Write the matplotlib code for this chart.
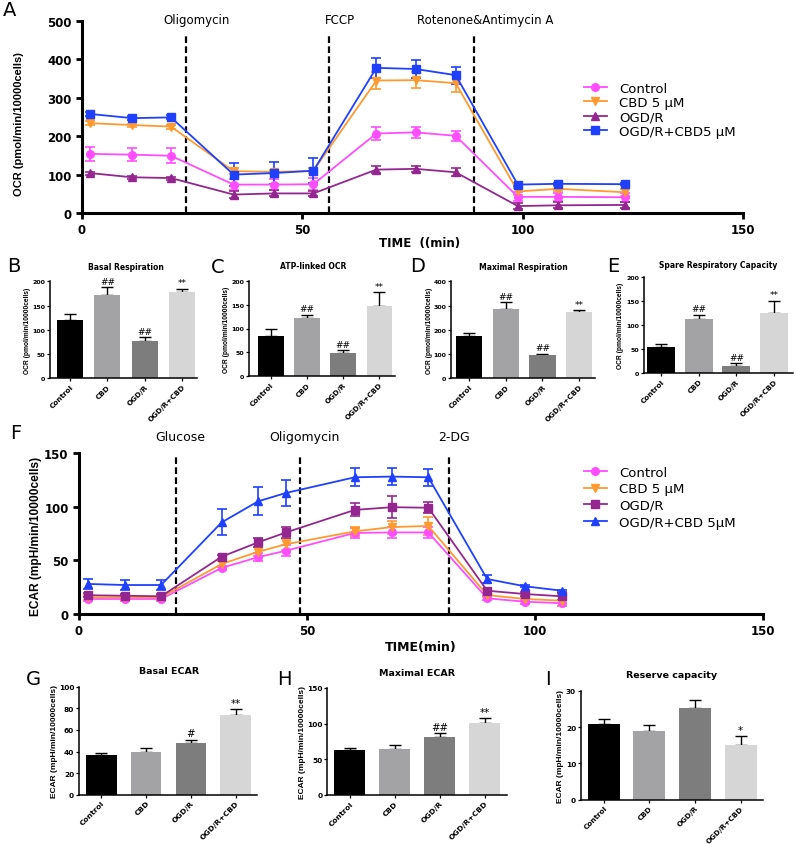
import numpy as np
import matplotlib.pyplot as plt
from matplotlib.lines import Line2D

plt.rcParams['font.family'] = 'DejaVu Sans'

# ---------------- data ----------------
# panel A : OCR kinetics
ocr_time = [1.8, 11.4, 20.2, 34.4, 43.5, 52.5, 66.8, 75.7, 84.8, 98.9, 108, 123.2]
ocr_control = [154, 152, 149, 74, 74, 75, 207, 210, 201, 42, 42, 41]
ocr_control_sd = [18, 17, 19, 14, 15, 16, 17, 14, 13, 12, 11, 12]
ocr_cbd = [234, 229, 225, 109, 107, 110, 345, 346, 338, 56, 63, 54]
ocr_cbd_sd = [5, 4, 5, 8, 6, 6, 22, 20, 22, 8, 7, 9]
ocr_ogdr = [104, 93, 91, 48, 51, 51, 113, 115, 106, 18, 20, 21]
ocr_ogdr_sd = [4, 4, 4, 9, 8, 6, 9, 8, 10, 8, 8, 7]
ocr_ogdr_cbd = [258, 247, 249, 100, 104, 110, 378, 375, 359, 74, 76, 75]
ocr_ogdr_cbd_sd = [5, 5, 5, 30, 29, 32, 26, 24, 22, 4, 3, 3]
ocr_inject = [23.6, 56.1, 88.9]
ocr_inject_labels = ['Oligomycin', 'FCCP', 'Rotenone&Antimycin A']
ocr_legend = ['Control', 'CBD 5 μM', 'OGD/R', 'OGD/R+CBD5 μM']

# panel F : ECAR kinetics
ecar_time = [2, 10, 18, 31.3, 39.3, 45.4, 60.5, 68.6, 76.6, 89.5, 97.8, 105.9]
ecar_control = [14, 14, 14, 43, 53, 59, 75.5, 76, 76, 14.6, 11.5, 10]
ecar_control_sd = [2, 2, 2, 2, 4, 5, 5, 5, 5, 2, 2, 3]
ecar_cbd = [15.5, 15.5, 15.5, 46.6, 58, 65, 77, 81, 82, 17.7, 14, 12.4]
ecar_cbd_sd = [2, 2, 2, 3, 4, 5, 4, 6, 8, 2, 2, 5]
ecar_ogdr = [17.5, 17, 16.5, 53.4, 66.8, 76, 97, 99.5, 99, 21.7, 18.6, 16.5]
ecar_ogdr_sd = [2, 2, 2, 2, 4, 5, 6, 10, 5, 2, 2, 3]
ecar_ogdr_cbd = [28, 27, 27, 85.4, 105, 112.8, 127.4, 128, 127.4, 32.6, 25.8, 21.7]
ecar_ogdr_cbd_sd = [5, 4.5, 4.5, 12, 13, 12, 8.5, 8, 8, 4, 1, 1]
ecar_inject = [21.2, 48.5, 81.2]
ecar_inject_labels = ['Glucose', 'Oligomycin', '2-DG']
ecar_legend = ['Control', 'CBD 5 μM', 'OGD/R', 'OGD/R+CBD 5μM']

# bar panels
groups = ['Control', 'CBD', 'OGD/R', 'OGD/R+CBD']
basal_resp = [121, 172, 77, 177]
basal_resp_sd = [12, 16, 8, 8]
atp_ocr = [85, 121, 48, 148]
atp_ocr_sd = [15, 8, 6, 28]
max_resp = [176, 286, 96, 275]
max_resp_sd = [12, 27, 6, 6]
spare_cap = [55, 112, 14, 125]
spare_cap_sd = [5, 10, 6, 26]
ocr_marks = ['', '##', '##', '**']
basal_ecar = [36.8, 39.8, 47.9, 73.8]
basal_ecar_sd = [2, 3, 3, 5.3]
basal_ecar_marks = ['', '', '#', '**']
max_ecar = [63.5, 64.5, 82, 100.5]
max_ecar_sd = [3, 5.6, 4.7, 7]
max_ecar_marks = ['', '', '##', '**']
reserve_cap = [20.8, 18.8, 25.2, 15.1]
reserve_cap_sd = [1.4, 1.8, 2.2, 2.3]
reserve_cap_marks = ['', '', '', '*']

line_colors = ['#ff4dff', '#ff9a2e', '#93278f', '#1f40ff']
bar_colors = ['#000000', '#a3a3a6', '#7d7d7d', '#d6d6d6']

# ---------------- figure ----------------
W, H = 796, 845
fig = plt.figure(figsize=(W / 100, H / 100), dpi=100)


def add_ax(left, right, top, bottom):
    # pixel box -> figure fraction
    return fig.add_axes([left / W, 1 - bottom / H, (right - left) / W, (bottom - top) / H])


def ftext(x, y, s, **kw):
    fig.text(x / W, 1 - y / H, s, ha='center', va='center', **kw)


def kinetic(ax, t, ys, sds, markers, inj, inj_top):
    for y, e, c, m in zip(ys, sds, line_colors, markers):
        ax.errorbar(t, y, yerr=e, color=c, marker=m, ms=5.5, lw=1.3,
                    elinewidth=1.2, capsize=3.5, capthick=1.2, clip_on=False)
    for x in inj:
        ax.axvline(x, ymax=inj_top, color='black', ls=(0, (3, 1.5)), lw=1.6)
    for sp in ['top', 'right']:
        ax.spines[sp].set_visible(False)
    for sp in ['left', 'bottom']:
        ax.spines[sp].set_linewidth(2.2)
    ax.tick_params(width=2, length=4, labelsize=8.5)


def bar_panel(ax, vals, sds, marks, xlim, ylim, yticks, ylabel, lab_fs, tick_fs, xt_fs, bw):
    x = np.arange(len(groups))
    ax.bar(x, vals, width=bw, color=bar_colors, zorder=2)
    ax.errorbar(x, vals, yerr=[np.zeros(len(vals)), sds], fmt='none', ecolor='black',
                elinewidth=1, capsize=4, capthick=1, zorder=1)
    for xi, v, s, m in zip(x, vals, sds, marks):
        ax.annotate(m, (xi, v + s), xytext=(0, 1), textcoords='offset points',
                    ha='center', va='bottom', fontsize=tick_fs + 2)
    ax.set_xlim(*xlim)
    ax.set_ylim(*ylim)
    ax.set_yticks(yticks)
    ax.set_xticks(x)
    ax.set_xticklabels(groups, rotation=45, ha='right', rotation_mode='anchor',
                       fontsize=xt_fs, fontweight='bold')
    for lbl in ax.get_yticklabels():
        lbl.set_fontweight('bold')
        lbl.set_fontsize(tick_fs)
    ax.tick_params(width=0.9, length=2.5, pad=1.0)
    for sp in ['top', 'right']:
        ax.spines[sp].set_visible(False)
    for sp in ['left', 'bottom']:
        ax.spines[sp].set_linewidth(1.1)
    ax.set_ylabel(ylabel, family='Liberation Sans', fontweight='bold', fontsize=lab_fs,
                  va='center')


# ---- A
axA = add_ax(82, 743, 22, 214)
kinetic(axA, ocr_time, [ocr_control, ocr_cbd, ocr_ogdr, ocr_ogdr_cbd],
        [ocr_control_sd, ocr_cbd_sd, ocr_ogdr_sd, ocr_ogdr_cbd_sd],
        ['o', 'v', '^', 's'], ocr_inject, 0.94)
axA.set_xlim(0, 150)
axA.set_ylim(0, 500)
axA.set_xticks([0, 50, 100, 150])
axA.set_yticks(range(0, 501, 100))
for lbl in axA.get_xticklabels() + axA.get_yticklabels():
    lbl.set_fontweight('bold')
for x, lab in zip(ocr_inject, ocr_inject_labels):
    axA.text(x + 2.5, 1.01, lab, transform=axA.get_xaxis_transform(),
             ha='center', va='center', fontsize=8.5)
axA.set_ylabel('OCR (pmol/min/10000cells)', family='Liberation Sans',
               fontweight='bold', fontsize=8, va='center')
axA.yaxis.set_label_coords((19 - 82) / 661, 0.47)
axA.set_xlabel('TIME  ((min)', fontweight='bold', fontsize=8.5, va='center')
axA.xaxis.set_label_coords(0.51, (214 - 243) / 192)
hA = [Line2D([], [], color=c, marker=m, ms=5.5, lw=1.3)
      for c, m in zip(line_colors, ['o', 'v', '^', 's'])]
axA.legend(hA, ocr_legend, loc='upper left', bbox_to_anchor=(577 / W, 1 - 76 / H),
           bbox_transform=fig.transFigure, frameon=False, fontsize=9.5, borderpad=0,
           handlelength=1.8, handletextpad=0.9, labelspacing=0.1)

# ---- F
axF = add_ax(79, 763, 454, 615)
kinetic(axF, ecar_time, [ecar_control, ecar_cbd, ecar_ogdr, ecar_ogdr_cbd],
        [ecar_control_sd, ecar_cbd_sd, ecar_ogdr_sd, ecar_ogdr_cbd_sd],
        ['o', 'v', 's', '^'], ecar_inject, 0.98)
axF.set_xlim(0, 150)
axF.set_ylim(0, 150)
axF.set_xticks([0, 50, 100, 150])
axF.set_yticks([0, 50, 100, 150])
for lbl in axF.get_xticklabels() + axF.get_yticklabels():
    lbl.set_fontweight('bold')
for x, lab in zip(ecar_inject, ecar_inject_labels):
    axF.text(x + 1, 1.105, lab, transform=axF.get_xaxis_transform(),
             ha='center', va='center', fontsize=9)
axF.set_ylabel('ECAR (mpH/min/10000cells)', family='Liberation Sans',
               fontweight='bold', fontsize=8.6, va='center')
axF.yaxis.set_label_coords((36 - 79) / 684, 0.49)
axF.set_xlabel('TIME(min)', fontweight='bold', fontsize=9, va='center')
axF.xaxis.set_label_coords(0.5, (615 - 647) / 161)
hF = [Line2D([], [], color=c, marker=m, ms=5.5, lw=1.3)
      for c, m in zip(line_colors, ['o', 'v', 's', '^'])]
axF.legend(hF, ecar_legend, loc='upper left', bbox_to_anchor=(577 / W, 1 - 460 / H),
           bbox_transform=fig.transFigure, frameon=False, fontsize=9.5, borderpad=0,
           handlelength=1.8, handletextpad=0.9, labelspacing=0.28)

# ---- B-E
ocr_ylab = 'OCR (pmol/min/10000cells)'
axB = add_ax(50, 197, 282.3, 379.3)
bar_panel(axB, basal_resp, basal_resp_sd, ocr_marks, (-0.53, 3.39), (0, 200),
          range(0, 201, 50), ocr_ylab, 4.8, 4.5, 5.2, 0.69)
axB.yaxis.set_label_coords((28 - 50) / 147, 0.5)

axC = add_ax(249, 395, 281.7, 377.3)
bar_panel(axC, atp_ocr, atp_ocr_sd, ocr_marks, (-0.6, 3.43), (0, 200),
          range(0, 201, 50), ocr_ylab, 4.8, 4.5, 5.2, 0.71)
axC.yaxis.set_label_coords((226 - 249) / 146, 0.5)

axD = add_ax(451, 595, 282.3, 379.3)
bar_panel(axD, max_resp, max_resp_sd, ocr_marks, (-0.49, 3.43), (0, 400),
          range(0, 401, 100), ocr_ylab, 4.8, 4.5, 5.2, 0.71)
axD.yaxis.set_label_coords((429 - 451) / 144, 0.5)

axE = add_ax(644.3, 792.7, 278.3, 374)
bar_panel(axE, spare_cap, spare_cap_sd, ocr_marks, (-0.44, 3.49), (0, 200),
          range(0, 201, 50), ocr_ylab, 4.8, 4.5, 5.2, 0.74)
axE.yaxis.set_label_coords((621 - 644.3) / 148.4, 0.5)

# ---- G-I
ecar_ylab = 'ECAR (mpH/min/10000cells)'
axG = add_ax(79, 257, 687.7, 795.7)
bar_panel(axG, basal_ecar, basal_ecar_sd, basal_ecar_marks, (-0.5, 3.48), (0, 100),
          range(0, 101, 20), ecar_ylab, 6, 5.3, 5.4, 0.68)
axG.yaxis.set_label_coords((54 - 79) / 178, 0.5)

axH = add_ax(327.3, 506.7, 689, 796)
bar_panel(axH, max_ecar, max_ecar_sd, max_ecar_marks, (-0.5, 3.49), (0, 150),
          range(0, 151, 50), ecar_ylab, 6, 5.3, 5.4, 0.68)
axH.yaxis.set_label_coords((302 - 327.3) / 179.4, 0.5)

axI = add_ax(581, 763, 691.7, 800.7)
bar_panel(axI, reserve_cap, reserve_cap_sd, reserve_cap_marks, (-0.5, 3.49), (0, 30),
          range(0, 31, 10), ecar_ylab, 6, 5.3, 5.2, 0.7)
axI.yaxis.set_label_coords((561 - 581) / 182, 0.5)

# titles of bar panels
ftext(126, 268, 'Basal Respiration', fontsize=5.5, fontweight='bold')
ftext(313, 267, 'ATP-linked OCR', fontsize=5.5, fontweight='bold')
ftext(523, 268, 'Maximal Respiration', fontsize=5.5, fontweight='bold')
ftext(718, 265, 'Spare Respiratory Capacity', fontsize=5.5, fontweight='bold')
ftext(169, 672, 'Basal ECAR', fontsize=6.8, fontweight='bold')
ftext(417, 673, 'Maximal ECAR', fontsize=6.8, fontweight='bold')
ftext(672, 676, 'Reserve capacity', fontsize=6.8, fontweight='bold')

# panel letters
for x, y, s in [(10, 11, 'A'), (14, 267, 'B'), (218, 268, 'C'), (418, 267, 'D'),
                (613, 267, 'E'), (16, 434, 'F'), (33, 680, 'G'), (284, 680, 'H'),
                (548, 680, 'I')]:
    ftext(x, y, s, fontsize=14)

fig.savefig('out.png', dpi=100)
